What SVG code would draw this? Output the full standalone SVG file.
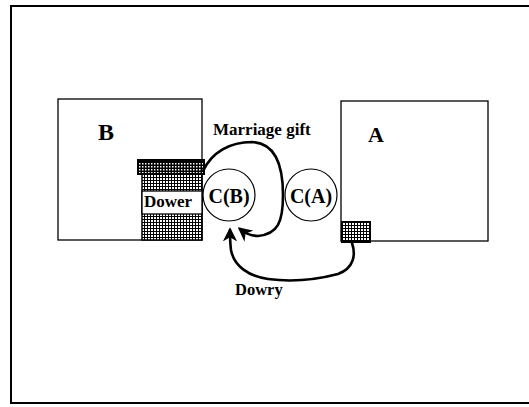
<svg xmlns="http://www.w3.org/2000/svg" width="529" height="407" viewBox="0 0 529 407">
<style>
.box{fill:#fff;stroke:#000;stroke-width:1.3}
.lbl{font-family:"Liberation Serif",serif;font-weight:bold;fill:#000}
.arc{fill:none;stroke:#000;stroke-width:2.6;stroke-linecap:round}
</style>
<defs>
<pattern id="hatch" width="3" height="3" patternUnits="userSpaceOnUse">
<rect width="3" height="3" fill="#000"/>
<rect x="1" y="1" width="2" height="2" fill="#fff"/>
</pattern>
<pattern id="hatch2" width="3" height="3" patternUnits="userSpaceOnUse">
<rect width="3" height="3" fill="#000"/>
<rect x="1" y="1" width="1.5" height="1.5" fill="#fff"/>
</pattern>
<marker id="ah" viewBox="0 0 10 10" refX="8" refY="5" markerWidth="5.5" markerHeight="5.5" orient="auto" markerUnits="strokeWidth">
<path d="M0,0 L10,5 L0,10 L3,5 Z" fill="#000"/>
</marker>
</defs>
<rect width="529" height="407" fill="#fff"/>
<path d="M529,6 L11,6 L11,403 L529,403" fill="none" stroke="#000" stroke-width="2"/>
<g id="nodeB">
<rect class="box" x="58" y="99" width="144" height="141"/>
<text class="lbl" x="106" y="140" font-size="24" text-anchor="middle">B</text>
</g>
<g id="nodeA">
<rect class="box" x="341" y="101" width="147" height="140"/>
<text class="lbl" x="376" y="142" font-size="22" text-anchor="middle">A</text>
</g>
<g id="dower">
<rect x="142" y="172" width="60" height="68" fill="url(#hatch)" stroke="#000" stroke-width="1.5"/>
<rect x="138" y="160" width="66" height="14" fill="url(#hatch2)" stroke="#000" stroke-width="2"/>
<rect x="138" y="160" width="66" height="3" fill="#000"/>
<rect x="142" y="191" width="60" height="23" fill="#fff" stroke="#000" stroke-width="1.3"/>
<text class="lbl" x="168" y="207" font-size="17" text-anchor="middle">Dower</text>
</g>
<g id="dowryBox">
<rect x="342" y="222" width="28" height="20" fill="url(#hatch)" stroke="#000" stroke-width="2"/>
</g>
<g id="CB">
<circle cx="229" cy="195" r="26" fill="#fff" stroke="#000" stroke-width="1.2"/>
<text class="lbl" x="229" y="203" font-size="20" text-anchor="middle">C(B)</text>
</g>
<g id="CA">
<circle cx="311" cy="195" r="26" fill="#fff" stroke="#000" stroke-width="1.2"/>
<text class="lbl" x="311" y="203" font-size="20" text-anchor="middle">C(A)</text>
</g>
<g id="connectors">
<path class="arc" d="M203,171 C212,152 230,142 252,142 C275,143 283,165 283,195 C283,222 278,234 258,236 C250,236 245,233 240,229" marker-end="url(#ah)"/>
<path class="arc" d="M352,243 C356,255 354,268 338,274 C315,280 290,282 268,279 C248,276 234,266 231,250 C230,242 230,236 230,230" marker-end="url(#ah)"/>
</g>
<g id="labels">
<text class="lbl" x="213" y="135" font-size="17">Marriage gift</text>
<text class="lbl" x="235" y="295" font-size="16.5">Dowry</text>
</g>
</svg>
